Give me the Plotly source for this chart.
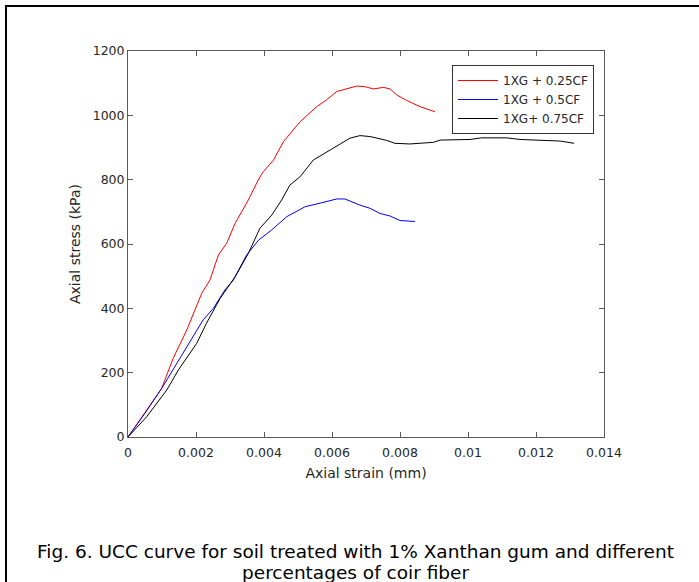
import plotly.graph_objects as go

# Data
strain_025 = [0, 0.00099, 0.00133, 0.00173, 0.00217, 0.00241, 0.00266, 0.0029, 0.00315, 0.00354,
              0.00383, 0.00398, 0.00428, 0.00457, 0.00506, 0.00555, 0.00584, 0.00614, 0.00673,
              0.00697, 0.00722, 0.00751, 0.00771, 0.00791, 0.0082, 0.00859, 0.00903]
stress_025 = [0, 151, 245, 333, 447, 488, 566, 602, 664, 737,
              799, 825, 861, 918, 980, 1027, 1048, 1074, 1091,
              1089, 1082, 1087, 1082, 1063, 1046, 1027, 1011]

strain_05 = [0, 0.0005, 0.00099, 0.00173, 0.00221, 0.00251, 0.00285, 0.0031, 0.00349, 0.00384,
             0.00423, 0.00467, 0.00506, 0.00521, 0.00565, 0.00614, 0.00638, 0.00682, 0.00712,
             0.00741, 0.00771, 0.008, 0.00844]
stress_05 = [0, 74, 151, 281, 364, 400, 457, 488, 566, 612,
             644, 685, 706, 716, 727, 740, 740, 721, 711,
             695, 687, 673, 670]

strain_075 = [0, 0.00055, 0.00114, 0.00148, 0.00202, 0.00231, 0.00271, 0.00315, 0.00354, 0.00388,
              0.00423, 0.00452, 0.00476, 0.00506, 0.00545, 0.00614, 0.00653, 0.00682, 0.00712,
              0.00761, 0.00785, 0.00829, 0.00869, 0.00898, 0.00918, 0.01006, 0.0104, 0.01084,
              0.01114, 0.01153, 0.01212, 0.01271, 0.01312]
stress_075 = [0, 63, 146, 208, 291, 354, 431, 498, 571, 649,
              690, 737, 783, 809, 861, 903, 929, 937, 934,
              922, 913, 911, 913, 916, 923, 925, 930, 929,
              930, 925, 922, 920, 913]

series_names = ["1XG + 0.25CF", "1XG + 0.5CF", "1XG+ 0.75CF"]
series_colors = ["#ff0000", "#0000ff", "#000000"]

x_tickvals = [0, 0.002, 0.004, 0.006, 0.008, 0.01, 0.012, 0.014]
x_ticktext = ["0", "0.002", "0.004", "0.006", "0.008", "0.01", "0.012", "0.014"]
y_tickvals = [0, 200, 400, 600, 800, 1000, 1200]
y_ticktext = ["0", "200", "400", "600", "800", "1000", "1200"]

caption_lines = ["Fig. 6. UCC curve for soil treated with 1% Xanthan gum and different",
                 "percentages of coir fiber"]

FONT = "DejaVu Sans, Liberation Sans, Arial, sans-serif"
TXT = "#262626"

fig = go.Figure()
for xs, ys, name, col in zip([strain_025, strain_05, strain_075],
                             [stress_025, stress_05, stress_075],
                             series_names, series_colors):
    fig.add_trace(go.Scatter(x=xs, y=ys, mode="lines", name=name,
                             line=dict(color=col, width=1)))

axis_common = dict(
    showgrid=False, zeroline=False, showline=True, linecolor="#5a5a5a", linewidth=1,
    mirror="ticks", ticks="inside", ticklen=5, tickcolor="#5a5a5a", tickwidth=1,
    tickfont=dict(family=FONT, size=12.5, color=TXT),
)

fig.update_layout(
    width=699, height=582,
    margin=dict(l=128, r=95, t=51, b=145),
    paper_bgcolor="white", plot_bgcolor="white",
    font=dict(family=FONT, color=TXT),
    xaxis=dict(range=[0, 0.014], tickvals=x_tickvals, ticktext=x_ticktext,
               ticklabelstandoff=4,
               title=dict(text="Axial strain (mm)", font=dict(family=FONT, size=14, color=TXT), standoff=9),
               **axis_common),
    yaxis=dict(range=[0, 1200], tickvals=y_tickvals, ticktext=y_ticktext,
               title=dict(text="Axial stress (kPa)", font=dict(family=FONT, size=14, color=TXT), standoff=8),
               **axis_common),
    legend=dict(x=(452 - 128) / 476, y=(437 - 65) / 386, xanchor="left", yanchor="top",
                bgcolor="white", bordercolor="#333333", borderwidth=1,
                font=dict(family=FONT, size=12, color=TXT),
                itemwidth=40, tracegroupgap=0),
    showlegend=True,
)

# caption lines
for txt, ypix in zip(caption_lines, [551, 572]):
    fig.add_annotation(text=txt, xref="paper", yref="paper",
                       x=(355 - 128) / 476, y=(437 - ypix) / 386,
                       xanchor="center", yanchor="middle", showarrow=False,
                       font=dict(family=FONT, size=18.5, color="#000000"))

# outer frame (left & top edges visible)
fig.add_shape(type="rect", xref="paper", yref="paper",
              x0=(6 - 128) / 476, x1=(710 - 128) / 476,
              y0=(437 - 600) / 386, y1=(437 - 6) / 386,
              line=dict(color="#000000", width=2), fillcolor="rgba(0,0,0,0)", layer="above")

fig.write_html("out.html", config={"displayModeBar": False},
               post_script="document.body.style.margin='0px';document.body.style.overflow='hidden';")
